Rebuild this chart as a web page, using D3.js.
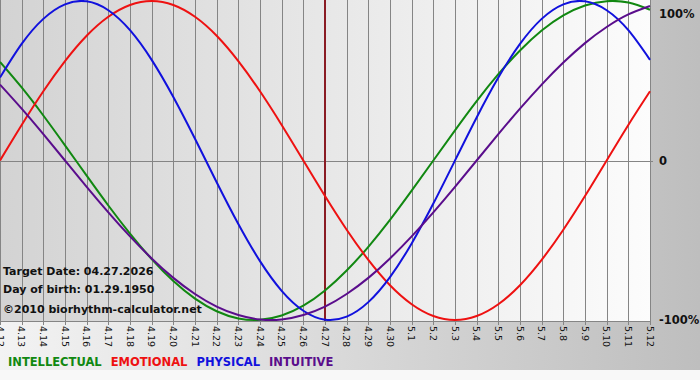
<!DOCTYPE html>
<meta charset="utf-8">
<head>
  <script src="https://d3js.org/d3.v7.min.js"></script>
</head>
<style>
  body { margin: 0; background: #fff; }
  svg { display: block; font-family: "DejaVu Sans", Verdana, sans-serif; }
</style>
<body>
<script>
  // day labels (M.D)
  var days = ["4.12","4.13","4.14","4.15","4.16","4.17","4.18","4.19","4.20","4.21","4.22",
    "4.23","4.24","4.25","4.26","4.27","4.28","4.29","4.30","5.1","5.2","5.3","5.4","5.5",
    "5.6","5.7","5.8","5.9","5.10","5.11","5.12"];

  // values, -1 .. 1
  var intellectual = [0.618,0.458,0.282,0.095,-0.095,-0.282,-0.458,-0.618,-0.756,-0.866,-0.945,
    -0.990,-0.999,-0.972,-0.910,-0.815,-0.690,-0.541,-0.372,-0.189,0.000,0.189,0.372,0.541,
    0.690,0.815,0.910,0.972,0.999,0.990,0.945];
  var emotional = [0.000,0.223,0.434,0.623,0.782,0.901,0.975,1.000,0.975,0.901,0.782,0.623,
    0.434,0.223,0.000,-0.223,-0.434,-0.623,-0.782,-0.901,-0.975,-1.000,-0.975,-0.901,-0.782,
    -0.623,-0.434,-0.223,0.000,0.223,0.434];
  var physical = [0.520,0.731,0.888,0.979,0.998,0.942,0.817,0.631,0.398,0.136,-0.136,-0.398,
    -0.631,-0.817,-0.942,-0.998,-0.979,-0.888,-0.731,-0.520,-0.270,0.000,0.270,0.520,0.731,
    0.888,0.979,0.998,0.942,0.817,0.631];
  var intuitive = [0.476,0.325,0.165,0.000,-0.165,-0.325,-0.476,-0.614,-0.736,-0.837,-0.916,
    -0.969,-0.997,-0.997,-0.969,-0.916,-0.837,-0.736,-0.614,-0.476,-0.325,-0.165,0.000,0.165,
    0.325,0.476,0.614,0.736,0.837,0.916,0.969];

  var targetDay = "4.27";
  var yTicks = [1, 0, -1];
  var yLabels = ["100%", "0", "-100%"];
  var infoLines = ["Target Date: 04.27.2026", "Day of birth: 01.29.1950"];
  var copyright = "\u00a92010 biorhythm-calculator.net";

  var series = [
    { name: "INTELLECTUAL", values: intellectual, color: "#118811" },
    { name: "EMOTIONAL", values: emotional, color: "#ee1111" },
    { name: "PHYSICAL", values: physical, color: "#1111dd" },
    { name: "INTUITIVE", values: intuitive, color: "#5a0d8c" }
  ];

  var W = 700, H = 380, plotW = 650, plotH = 321;

  var svg = d3.select("body").append("svg")
    .attr("width", W)
    .attr("height", H);

  var defs = svg.append("defs");
  var bgGrad = defs.append("linearGradient").attr("id", "bgGrad");
  bgGrad.append("stop").attr("offset", "0%").attr("stop-color", "#f3f3f3");
  bgGrad.append("stop").attr("offset", "100%").attr("stop-color", "#bebebe");
  var plotGrad = defs.append("linearGradient").attr("id", "plotGrad");
  plotGrad.append("stop").attr("offset", "0%").attr("stop-color", "#d3d3d3");
  plotGrad.append("stop").attr("offset", "100%").attr("stop-color", "#fcfcfc");

  // outer background
  svg.append("rect").attr("width", W).attr("height", 370).attr("fill", "url(#bgGrad)");
  svg.append("rect").attr("y", 370).attr("width", W).attr("height", 10).attr("fill", "#f8f8f8");
  svg.append("rect").attr("width", plotW + 1).attr("height", plotH).attr("fill", "url(#plotGrad)");

  var x = d3.scalePoint().domain(days).range([0, plotW]);
  var y = d3.scaleLinear().domain([-1, 1]).range([320, 1]);

  // vertical day lines with small ticks below
  svg.append("g").selectAll("line")
    .data(days)
    .join("line")
    .attr("x1", function (d) { return Math.round(x(d)) + 0.5; })
    .attr("x2", function (d) { return Math.round(x(d)) + 0.5; })
    .attr("y1", 0)
    .attr("y2", plotH + 4)
    .attr("stroke", "#858585");

  // zero line and bottom border
  svg.append("line")
    .attr("x1", 0).attr("x2", plotW + 3)
    .attr("y1", Math.round(y(0)) + 0.5).attr("y2", Math.round(y(0)) + 0.5)
    .attr("stroke", "#858585");
  svg.append("line")
    .attr("x1", 0).attr("x2", plotW + 1)
    .attr("y1", plotH + 0.5).attr("y2", plotH + 0.5)
    .attr("stroke", "#858585");

  // day labels, rotated
  svg.append("g").selectAll("text")
    .data(days)
    .join("text")
    .attr("transform", function (d) { return "translate(" + x(d) + "," + (plotH + 5) + ") rotate(90)"; })
    .attr("dy", "0.35em")
    .attr("font-size", "9.5px")
    .attr("fill", "#111")
    .text(function (d) { return d; });

  // right axis labels
  svg.append("g").selectAll("text")
    .data(yTicks)
    .join("text")
    .attr("x", 659)
    .attr("y", function (d) { return Math.max(y(d), 14); })
    .attr("dy", "0.38em")
    .attr("font-size", "11.5px")
    .attr("font-weight", "bold")
    .attr("fill", "#111")
    .text(function (d, i) { return yLabels[i]; });

  // target day marker
  svg.append("line")
    .attr("x1", x(targetDay)).attr("x2", x(targetDay))
    .attr("y1", 0).attr("y2", plotH)
    .attr("stroke", "#8a1c24")
    .attr("stroke-width", 2);

  var line = d3.line()
    .x(function (d, i) { return x(days[i]); })
    .y(function (d) { return y(d); })
    .curve(d3.curveNatural);

  svg.append("defs").append("clipPath").attr("id", "plotClip")
    .append("rect").attr("x", 0).attr("y", -2).attr("width", plotW + 1).attr("height", plotH + 3);

  svg.append("g").attr("clip-path", "url(#plotClip)")
    .selectAll("path")
    .data(series)
    .join("path")
    .attr("d", function (s) { return line(s.values); })
    .attr("fill", "none")
    .attr("stroke", function (s) { return s.color; })
    .attr("stroke-width", 2);

  // info text
  svg.append("g").selectAll("text")
    .data(infoLines)
    .join("text")
    .attr("x", 3)
    .attr("y", function (d, i) { return 275 + i * 18; })
    .attr("font-size", "11px")
    .attr("font-weight", "bold")
    .attr("fill", "#111")
    .text(function (d) { return d; });
  svg.append("text")
    .attr("x", 3).attr("y", 313)
    .attr("font-size", "11px")
    .attr("font-weight", "bold")
    .attr("fill", "#111")
    .text(copyright);

  // legend
  var lx = 8;
  var legend = svg.append("g");
  series.forEach(function (s) {
    var t = legend.append("text")
      .attr("x", lx).attr("y", 366)
      .attr("font-size", "11.5px")
      .attr("font-weight", "bold")
      .attr("fill", s.color)
      .text(s.name);
    lx += t.node().getComputedTextLength() + 9;
  });
</script>
</body>
